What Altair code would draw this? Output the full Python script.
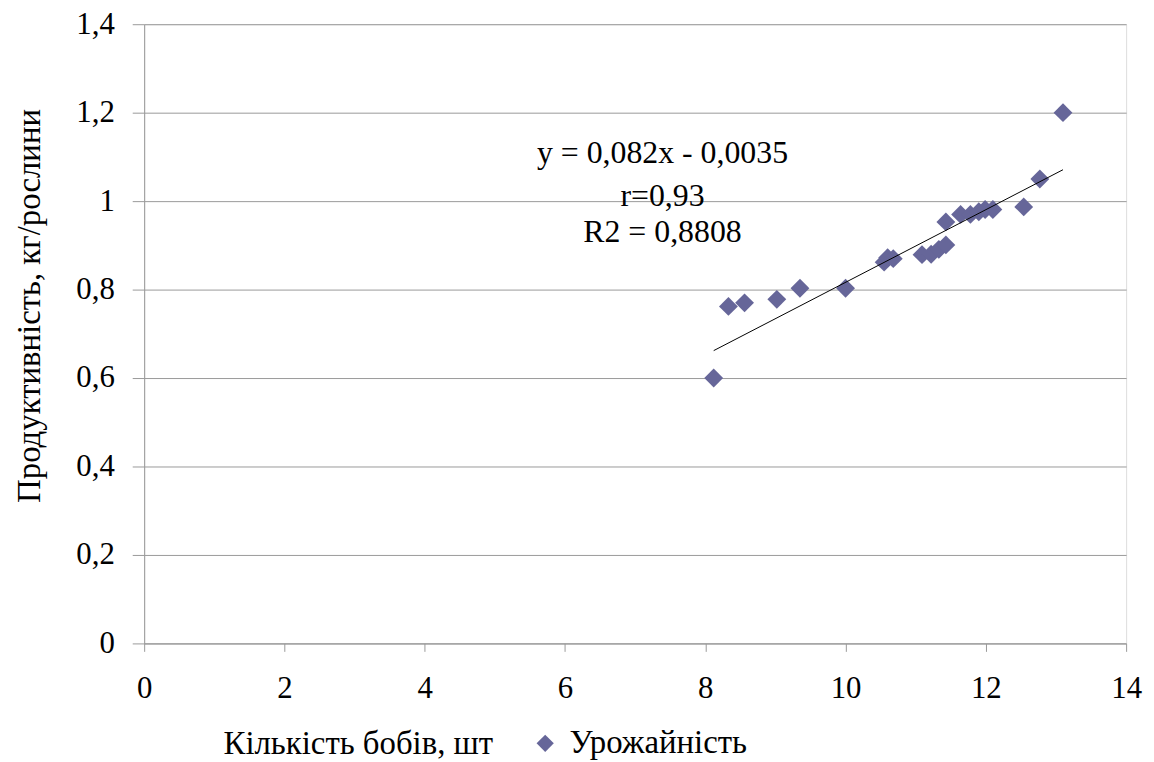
import altair as alt
import pandas as pd

# data
beans = [8.12, 8.33, 8.56, 9.02, 9.35, 10.0, 10.55, 10.6, 10.68, 11.09, 11.22,
         11.33, 11.43, 11.43, 11.64, 11.78, 11.9, 11.99, 12.1, 12.54, 12.77, 13.1]
yield_kg = [0.60, 0.762, 0.770, 0.778, 0.803, 0.803, 0.862, 0.872, 0.870, 0.879, 0.880,
            0.891, 0.901, 0.953, 0.970, 0.970, 0.976, 0.981, 0.981, 0.987, 1.05, 1.20]
series_name = "Урожайність"

# trend line ends as drawn in the picture (y = 0,082x - 0,0035)
trend_x = [8.12, 13.1]
trend_y = [0.662, 1.071]

ann_text = ["y = 0,082x - 0,0035", "r=0,93", "R2 = 0,8808"]
ann_x = [7.39, 7.39, 7.39]
ann_y = [1.108, 1.012, 0.931]

x_ticks = [0, 2, 4, 6, 8, 10, 12, 14]
y_ticks = [0, 0.2, 0.4, 0.6, 0.8, 1.0, 1.2, 1.4]

FONT = "Times New Roman, Liberation Serif, serif"
COLOR = "#666699"

df = pd.DataFrame({"x": beans, "y": yield_kg, "s": [series_name] * len(beans)})
tr = pd.DataFrame({"x": trend_x, "y": trend_y})
ann = pd.DataFrame({"t": ann_text, "x": ann_x, "y": ann_y})

xscale = alt.Scale(domain=[0, 14], nice=False, zero=True)
yscale = alt.Scale(domain=[0, 1.4], nice=False, zero=True)

xaxis = alt.Axis(
    values=x_ticks, labelExpr="replace(format(datum.value, '~g'), '.', ',')", grid=False,
    labelFlush=False, labelOverlap=False,
    domainColor="#999999", tickColor="#999999", tickSize=8, labelPadding=22,
    labelFontSize=31, labelFont=FONT, labelColor="black",
    title="Кількість бобів, шт", titleFont=FONT, titleFontSize=33,
    titleFontWeight="normal", titleColor="black",
    titleX=215, titleY=101, titleBaseline="middle", titleAnchor="start", titleAlign="center",
)
yaxis = alt.Axis(
    values=y_ticks, labelExpr="replace(format(datum.value, '~g'), '.', ',')",
    labelFlush=False, labelOverlap=False,
    grid=True, gridColor="#999999", gridWidth=1,
    domainColor="#999999", tickColor="#999999", tickSize=12, labelPadding=18,
    labelFontSize=31, labelFont=FONT, labelColor="black",
    title="Продуктивність, кг/рослини", titleFont=FONT, titleFontSize=33,
    titleFontWeight="normal", titleColor="black",
    titleX=-115, titleY=283, titleBaseline="middle", titleAnchor="start", titleAlign="center",
)

points = alt.Chart(df).mark_point(shape="diamond", filled=True, size=360, opacity=1).encode(
    x=alt.X("x:Q", scale=xscale, axis=xaxis),
    y=alt.Y("y:Q", scale=yscale, axis=yaxis),
    color=alt.Color(
        "s:N",
        scale=alt.Scale(range=[COLOR]),
        legend=alt.Legend(
            title=None, orient="none", legendX=387, legendY=707,
            symbolType="diamond", symbolSize=300, symbolStrokeWidth=0,
            labelFont=FONT, labelFontSize=33, labelColor="black", labelLimit=400,
            labelOffset=8,
        ),
    ),
)

trend = alt.Chart(tr).mark_line(color="black", strokeWidth=1).encode(
    x=alt.X("x:Q", scale=xscale), y=alt.Y("y:Q", scale=yscale)
)

labels = alt.Chart(ann).mark_text(
    font=FONT, fontSize=32, color="black", baseline="middle", align="center"
).encode(x=alt.X("x:Q", scale=xscale), y=alt.Y("y:Q", scale=yscale), text="t:N")

chart = alt.layer(points, trend, labels).properties(
    width=988, height=623,
    autosize=alt.AutoSizeParams(type="none"),
    padding={"left": 137, "top": 14, "right": 20, "bottom": 117},
).configure_view(stroke=None).configure(background="white")

chart.save("out.html", embed_options={"renderer": "svg", "actions": False})
